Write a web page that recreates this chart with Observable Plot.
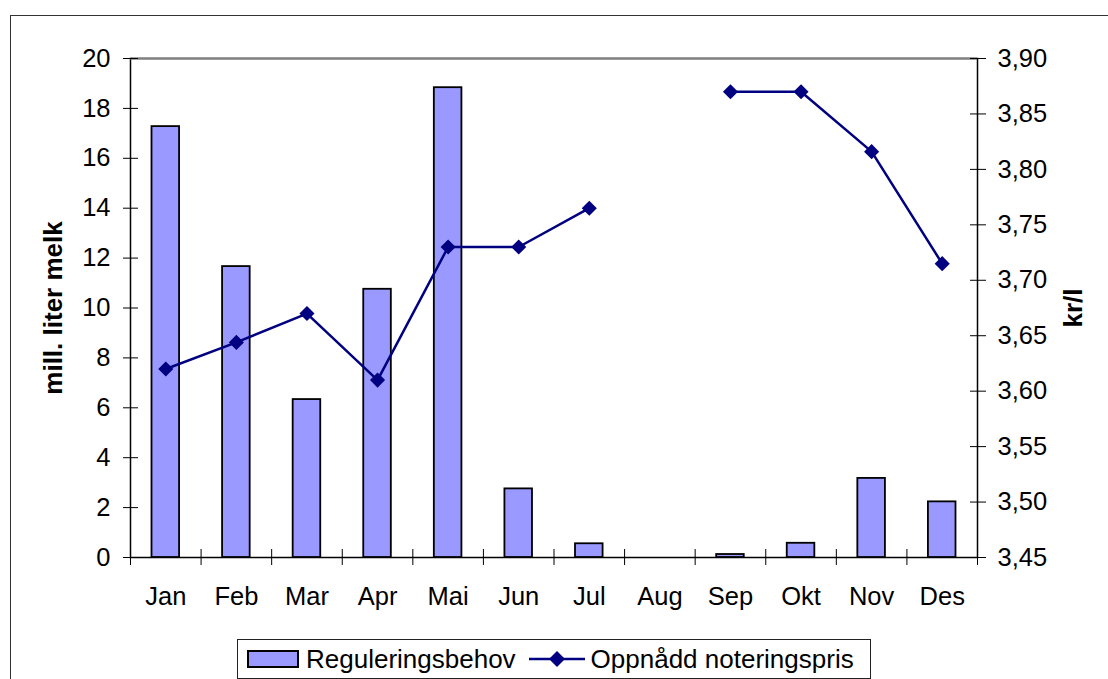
<!DOCTYPE html>
<html>
<head>
<meta charset="utf-8">
<script src="https://cdn.jsdelivr.net/npm/d3@7"></script>
<script src="https://cdn.jsdelivr.net/npm/@observablehq/plot@0.6"></script>
<style>
  body { margin: 0; background: #fff; font-family: "Liberation Sans", Arial, sans-serif; }
  #wrap { position: relative; width: 1108px; height: 679px; overflow: hidden; background: #fff; }
  #outer { position: absolute; left: 10px; top: 15px; width: 1120px; height: 720px; border: 1.5px solid #333; box-sizing: border-box; }
  #chart { position: absolute; left: 0; top: 0; }
  #legend { position: absolute; left: 237px; top: 639px; width: 634px; height: 40px; border: 1px solid #222; box-sizing: border-box; background: #fff;
            display: flex; align-items: center; font-size: 26px; color: #000; white-space: nowrap; }
  #legend .item { display: flex; align-items: center; }
</style>
</head>
<body>
<div id="wrap">
  <div id="outer"></div>
  <div id="chart"></div>
  <div id="legend"></div>
</div>
<script>
// ---- data ----
const months = ["Jan", "Feb", "Mar", "Apr", "Mai", "Jun", "Jul", "Aug", "Sep", "Okt", "Nov", "Des"];
const reguleringsbehov = [17.27, 11.66, 6.33, 10.75, 18.83, 2.75, 0.55, null, 0.12, 0.57, 3.17, 2.23];
const noteringspris = [3.620, 3.644, 3.670, 3.610, 3.730, 3.730, 3.765, null, 3.870, 3.870, 3.816, 3.715];
const leftTicks = [0, 2, 4, 6, 8, 10, 12, 14, 16, 18, 20];
const rightTicks = [3.45, 3.50, 3.55, 3.60, 3.65, 3.70, 3.75, 3.80, 3.85, 3.90];
const seriesNames = ["Reguleringsbehov", "Oppnådd noteringspris"];
const leftTitle = "mill. liter melk";
const rightTitle = "kr/l";

// ---- secondary-axis mapping (price -> left scale units) ----
const pMin = 3.45, pMax = 3.90, yMax = 20;
const toLeft = p => (p - pMin) / (pMax - pMin) * yMax;
const fromLeft = y => pMin + y / yMax * (pMax - pMin);
const fmtPrice = p => p.toFixed(2).replace(".", ",");

const bars = months.map((m, i) => ({month: m, value: reguleringsbehov[i]})).filter(d => d.value != null);
const line = months.map((m, i) => ({month: m, price: noteringspris[i]}));
const pts = line.filter(d => d.price != null);

const W = 1108, H = 679, mL = 130, mR = 131, mT = 58, mB = 122;
const bw = (W - mL - mR) / months.length;
const FS = 25.5;
const FONT = "'Liberation Sans', Arial, sans-serif";
const navy = "#000080";
const barFill = "#9999FF";
const blank = () => "";

const chart = Plot.plot({
  width: W, height: H,
  marginLeft: mL, marginRight: mR, marginTop: mT, marginBottom: mB,
  style: {fontFamily: FONT, fontSize: FS + "px", color: "#000", background: "transparent"},
  x: {type: "band", domain: months, padding: 0, round: false},
  y: {domain: [0, yMax]},
  marks: [
    Plot.frame({stroke: "#000", strokeWidth: 1.5}),
    Plot.ruleY([yMax], {stroke: "#808080", strokeWidth: 2}),
    Plot.barY(bars, {x: "month", y: "value", fill: barFill, stroke: "#000", strokeWidth: 1.8, insetLeft: 21.5, insetRight: 21.5}),
    Plot.line(line, {x: "month", y: d => d.price == null ? NaN : toLeft(d.price), stroke: navy, strokeWidth: 2.5}),
    Plot.dot(pts, {x: "month", y: d => toLeft(d.price), symbol: "diamond2", r: 6.8, fill: navy, stroke: "none"}),
    // left axis
    Plot.axisY(leftTicks, {anchor: "left", tickSize: 7, tickPadding: 13, fontSize: FS, label: null, stroke: "#000"}),
    Plot.axisY(leftTicks, {anchor: "left", tickSize: 8, dx: 8, tickFormat: blank, label: null}),
    // right axis
    Plot.axisY(rightTicks.map(toLeft), {anchor: "right", tickSize: 8, tickPadding: 12, fontSize: FS, tickFormat: y => fmtPrice(fromLeft(y)), label: null}),
    Plot.axisY(rightTicks.map(toLeft), {anchor: "right", tickSize: 8, dx: -8, tickFormat: blank, label: null}),
    // x axis labels (centered) and boundary ticks
    Plot.axisX(months, {anchor: "bottom", tickSize: 0, tickPadding: 29, fontSize: FS, label: null}),
    Plot.axisX(months, {anchor: "bottom", tickSize: 16, dy: -8, dx: -bw / 2, tickFormat: blank, label: null}),
    Plot.axisX([months[months.length - 1]], {anchor: "bottom", tickSize: 16, dy: -8, dx: bw / 2, tickFormat: blank, label: null}),
    // axis titles
    Plot.text([leftTitle], {frameAnchor: "left", textAnchor: "middle", dx: -77, rotate: -90, fontWeight: "bold", fontSize: 26}),
    Plot.text([rightTitle], {frameAnchor: "right", textAnchor: "middle", dx: 96, rotate: -90, fontWeight: "bold", fontSize: 26})
  ]
});
document.getElementById("chart").appendChild(chart);

// ---- legend ----
const legend = document.getElementById("legend");
legend.innerHTML = `
  <div class="item" style="margin-left:9px">
    <svg width="52" height="20"><rect x="1" y="2" width="50" height="16" fill="${barFill}" stroke="#000" stroke-width="2"/></svg>
    <span style="margin-left:7px">${seriesNames[0]}</span>
  </div>
  <div class="item" style="margin-left:13px">
    <svg width="56" height="20"><line x1="0" y1="10" x2="56" y2="10" stroke="${navy}" stroke-width="2.5"/>
      <path d="M28,2 L36,10 L28,18 L20,10 Z" fill="${navy}"/></svg>
    <span style="margin-left:6px">${seriesNames[1]}</span>
  </div>`;
</script>
</body>
</html>
